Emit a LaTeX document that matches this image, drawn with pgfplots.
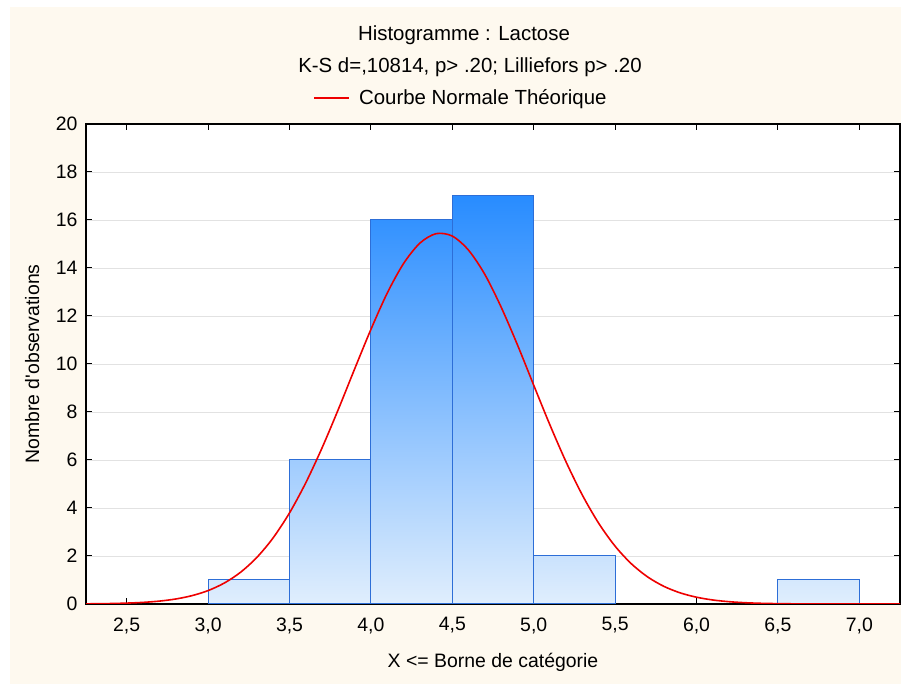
\documentclass[border=0pt]{standalone}
\usepackage{fontspec}
\setmainfont{Liberation Sans}
\usepackage{pgfplots}
\pgfplotsset{compat=1.18}
\definecolor{cream}{RGB}{254,249,239}
\definecolor{barlight}{RGB}{224,238,253}
\definecolor{bardark}{RGB}{40,140,255}
\definecolor{baredge}{RGB}{45,110,215}
\definecolor{gridgray}{RGB}{226,226,226}
\definecolor{curvered}{RGB}{238,0,0}
\newcommand{\chartfont}{\fontsize{19.5}{22}\selectfont}
\newcommand{\titlefont}{\fontsize{20.5}{23}\selectfont}
\begin{document}
\begin{tikzpicture}[x=1bp,y=1bp]
\useasboundingbox (0,0) rectangle (901,684);
\fill[cream] (10,0) rectangle (901,677);
\begin{axis}[
  at={(86bp,80bp)}, anchor=south west,
  scale only axis, width=814bp, height=480bp,
  axis background/.style={fill=white},
  xmin=2.25, xmax=7.25, ymin=0, ymax=20,
  xtick={2.5,3.0,3.5,4.0,4.5,5.0,5.5,6.0,6.5,7.0},
  ytick={0,2,4,6,8,10,12,14,16,18,20},
  tick align=inside, major tick length=6bp,
  tick style={black, line width=1bp},
  axis line style={black, line width=1.6bp},
  ymajorgrids, grid style={gridgray, line width=0.8bp},
  /pgf/number format/assume math mode=true,
  tick label style={font=\chartfont},
  xticklabel style={/pgf/number format/.cd, use comma, fixed, fixed zerofill, precision=1, /tikz/.cd, yshift=-10bp},
  yticklabel style={xshift=-5bp},
  xlabel={X <= Borne de catégorie},
  xlabel style={font=\chartfont, at={(axis description cs:0.5,-0.121)}, anchor=center},
  ylabel={Nombre d\textquotesingle observations},
  ylabel style={font=\chartfont, at={(axis description cs:-0.066,0.5)}, anchor=center},
  legend style={at={(axis description cs:0.4607,1.054)}, anchor=center, draw=none, fill=none, font=\titlefont},
  legend image code/.code={\draw[#1] (0bp,0bp) -- (35bp,0bp);},
]
\addplot[ybar, bar width=0.5, bar shift=0pt, draw=baredge, line width=1bp, top color=bardark!6!barlight, bottom color=barlight, forget plot] coordinates {(3.25,1)};
\addplot[ybar, bar width=0.5, bar shift=0pt, draw=baredge, line width=1bp, top color=bardark!35!barlight, bottom color=barlight, forget plot] coordinates {(3.75,6)};
\addplot[ybar, bar width=0.5, bar shift=0pt, draw=baredge, line width=1bp, top color=bardark!94!barlight, bottom color=barlight, forget plot] coordinates {(4.25,16)};
\addplot[ybar, bar width=0.5, bar shift=0pt, draw=baredge, line width=1bp, top color=bardark, bottom color=barlight, forget plot] coordinates {(4.75,17)};
\addplot[ybar, bar width=0.5, bar shift=0pt, draw=baredge, line width=1bp, top color=bardark!12!barlight, bottom color=barlight, forget plot] coordinates {(5.25,2)};
\addplot[ybar, bar width=0.5, bar shift=0pt, draw=baredge, line width=1bp, top color=bardark!6!barlight, bottom color=barlight, forget plot] coordinates {(6.75,1)};
\addplot[curvered, line width=1.6bp, smooth, no marks] coordinates {
(2.25,0.006) (2.3,0.010) (2.4,0.019) (2.5,0.037) (2.6,0.067) (2.7,0.120) (2.8,0.207) (2.9,0.346)
(3.0,0.559) (3.1,0.875) (3.2,1.325) (3.3,1.944) (3.4,2.761) (3.5,3.795) (3.6,5.051) (3.7,6.506)
(3.8,8.111) (3.9,9.792) (4.0,11.44) (4.1,12.95) (4.2,14.18) (4.3,15.03) (4.4,15.43) (4.5,15.33)
(4.6,14.74) (4.7,13.73) (4.8,12.37) (4.9,10.80) (5.0,9.117) (5.1,7.455) (5.2,5.902) (5.3,4.523)
(5.4,3.355) (5.5,2.409) (5.6,1.675) (5.7,1.127) (5.8,0.734) (5.9,0.463) (6.0,0.283) (6.1,0.167)
(6.2,0.096) (6.3,0.053) (6.4,0.028) (6.5,0.015) (6.6,0.007) (6.8,0.002) (7.0,0.0) (7.25,0.0)
};
\addlegendentry{\hspace{7bp}Courbe Normale Théorique}
\end{axis}
\node[font=\titlefont] at (464,649) {Histogramme : Lactose};
\node[font=\titlefont] at (470,617) {K-S d=,10814, p> .20; Lilliefors p> .20};
\end{tikzpicture}
\end{document}
